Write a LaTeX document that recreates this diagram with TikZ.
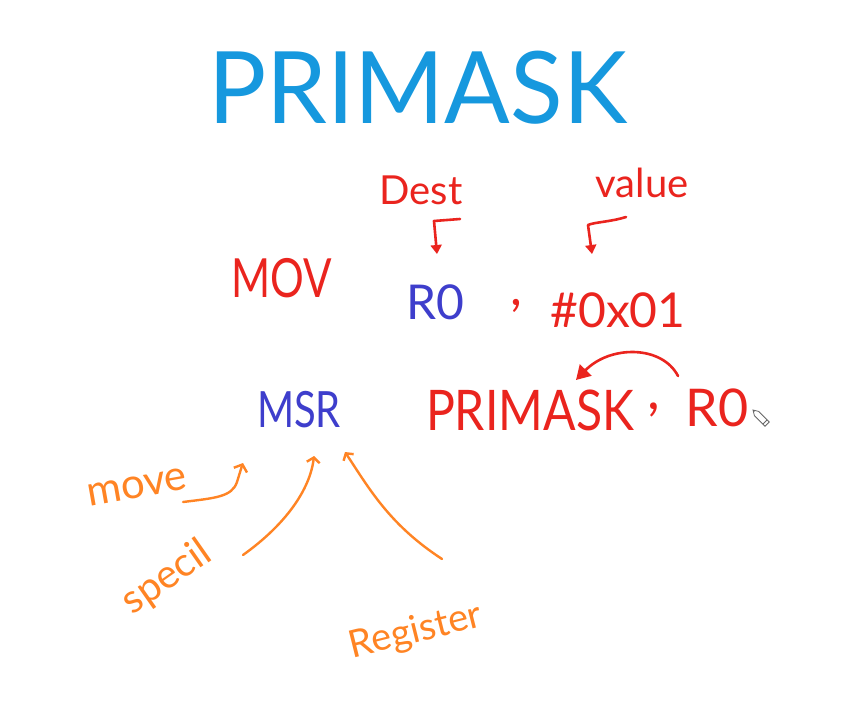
\documentclass[tikz,border=0pt]{standalone}
\usepackage{fontspec}
\setmainfont{Lato}
\usetikzlibrary{arrows.meta}
\definecolor{titleblue}{RGB}{22,152,222}
\definecolor{inkred}{RGB}{234,36,30}
\definecolor{inkblue}{RGB}{62,62,204}
\definecolor{inkorange}{RGB}{255,132,36}
\tikzset{
  ink/.style={inner sep=0pt, outer sep=0pt},
  redtxt/.style={ink, text=inkred},
  bluetxt/.style={ink, text=inkblue},
  orangetxt/.style={ink, text=inkorange},
  redpen/.style={draw=inkred, line width=2.6pt, line cap=round, line join=round},
  orangepen/.style={draw=inkorange, line width=2.4pt, line cap=round, line join=round},
  fsz/.style={font=\fontsize{#1}{#1}\selectfont},
}
\begin{document}
\begin{tikzpicture}[x=1pt,y=-1pt]
\useasboundingbox[fill=white] (0,0) rectangle (859,706);

% heading
\node[ink, text=titleblue, fsz=100, xscale=0.97] (title) at (418,88) {PRIMASK};

% MOV R0, #0x01 with operand labels
\node[redtxt, fsz=40] (dest) at (421,190) {Dest};
\node[redtxt, fsz=40] (value) at (642,183) {value};
\node[redtxt, fsz=54, xscale=0.78] (mov) at (282,278) {MOV};
\node[bluetxt, fsz=48] (rzero) at (435,302) {R0};
\node[redtxt, fsz=52] (comma) at (516,306) {,};
\node[redtxt, fsz=48] (imm) at (618,310) {\#0x01};

\coordinate (destA) at (460,219);
\coordinate (destB) at (434,221);
\coordinate (destC) at (437,254);
\draw[redpen, -{Triangle[length=9pt,width=11pt]}] (destA) -- (destB) -- (destC);

\coordinate (valA) at (626,217);
\coordinate (valB) at (588,225);
\coordinate (valC) at (592,254);
\draw[redpen, -{Triangle[length=9pt,width=11pt]}] (valA) .. controls (610,222) and (595,222) .. (valB) -- (valC);

% MSR PRIMASK, R0
\node[bluetxt, fsz=50, xscale=0.8] (msr) at (299,410) {MSR};
\node[redtxt, fsz=56, xscale=0.86] (pm) at (530,410) {PRIMASK};
\node[redtxt, fsz=56] (comma2) at (654,410) {,};
\node[redtxt, fsz=52] (rzero2) at (717,408) {R0};

\coordinate (curveA) at (678,376);
\coordinate (curveB) at (576,380);
\draw[redpen, -{Triangle[length=14pt,width=16pt]}] (curveA) .. controls (662,345) and (610,345) .. (curveB);

% pen cursor
\begin{scope}[shift={(753,410)}, rotate=-45, draw=gray!80!black, line width=0.8pt]
  \draw (0,0) -- (5,-3) -- (20,-3) -- (20,3) -- (5,3) -- cycle;
  \draw (17,-3) -- (17,3);
  \fill[gray!80!black] (0,0) -- (2,-1.2) -- (2,1.2) -- cycle;
\end{scope}

% MSR expansion
\node[orangetxt, fsz=42, rotate=10] (move) at (137,487) {move};
\node[orangetxt, fsz=40, rotate=35] (special) at (167,578) {specil};
\node[orangetxt, fsz=38, rotate=14] (register) at (416,632) {Register};

\coordinate (moveA) at (183,502);
\coordinate (moveB) at (243,463);
\draw[orangepen, -{Straight Barb[length=6pt,width=14pt]}] (moveA) .. controls (215,498) and (232,497) .. (237,482) .. controls (239,474) .. (moveB);

\coordinate (specA) at (243,555);
\coordinate (specB) at (314,456);
\draw[orangepen, -{Straight Barb[length=5pt,width=13pt]}] (specA) .. controls (285,525) and (310,490) .. (specB);

\coordinate (regA) at (442,559);
\coordinate (regB) at (345,452);
\draw[orangepen, -{Straight Barb[length=5pt,width=12pt]}] (regA) .. controls (390,525) and (370,490) .. (regB);
\end{tikzpicture}
\end{document}
